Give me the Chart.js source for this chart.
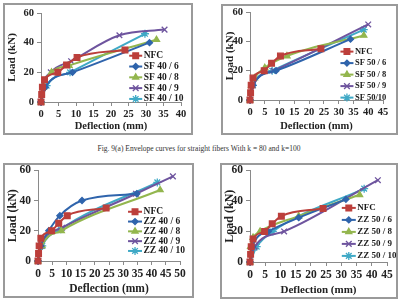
<!DOCTYPE html>
<html>
<head>
<meta charset="utf-8">
<script src="https://cdn.jsdelivr.net/npm/chart.js@4/dist/chart.umd.min.js"></script>
<style>
  body { margin: 0; background: #fff; width: 398px; height: 301px; position: relative; overflow: hidden; }
  .panel { position: absolute; border: 2px solid #9a9a9a; box-sizing: border-box; }
  .panel canvas { position: absolute; left: 0; top: 0; }
  #caption { position: absolute; left: 0; width: 398px; top: 144px; text-align: center;
             font: 7.5px "Liberation Serif", serif; color: #333; }
</style>
</head>
<body>
<div class="panel" style="left:3px;top:3px;width:190px;height:132px"><canvas id="c1" width="186" height="128"></canvas></div>
<div class="panel" style="left:221px;top:4px;width:177px;height:131px"><canvas id="c2" width="173" height="127"></canvas></div>
<div id="caption">Fig. 9(a) Envelope curves for straight fibers With k = 80 and k=100</div>
<div class="panel" style="left:3px;top:163px;width:191px;height:135px"><canvas id="c3" width="187" height="131"></canvas></div>
<div class="panel" style="left:220px;top:163px;width:178px;height:136px"><canvas id="c4" width="174" height="132"></canvas></div>
<script>
// [deflection (mm), load (kN)]
const nfc = [[0, 0], [0.2, 5], [0.4, 10], [1, 15], [4.8, 20], [7.3, 25], [10.3, 30], [24, 35]];

const sf40_6 = [[0, 0], [1.2, 10], [9, 20], [31, 40]];
const sf40_8 = [[0, 0], [0.6, 10], [3, 20], [8, 24.5], [33, 42]];
const sf40_9 = [[0, 0], [0.5, 10], [2.8, 20], [8.6, 27.5], [22.4, 45], [35.3, 48.8]];
const sf40_10 = [[0, 0], [1.6, 11], [8.3, 20], [29.7, 46]];

const sf50_6 = [[0, 0], [1, 10], [8.8, 20], [34, 41.5]];
const sf50_8 = [[0, 0], [0.5, 10], [1.5, 15], [5, 22], [12.5, 30], [38.5, 44]];
const sf50_9 = [[0, 0], [1, 10], [8, 20], [40, 51.5]];
const sf50_10 = [[0, 0], [1, 10], [7.5, 20], [38.5, 48]];

const zz40_6 = [[0, 0], [1, 10], [3.8, 20], [7.7, 30], [15.5, 40], [34.8, 44.5]];
const zz40_8 = [[0, 0], [1.4, 10], [8.2, 20], [43, 47]];
const zz40_9 = [[0, 0], [1, 10], [8.5, 22], [34.5, 44.5], [47.5, 56]];
const zz40_10 = [[0, 0], [1.5, 10], [8, 21], [42, 52]];

const zz50_6 = [[0, 0], [0.8, 10], [6, 20], [16, 29], [31.5, 41]];
const zz50_8 = [[0, 0], [0.2, 10], [1, 16], [3.3, 20], [16, 30], [36, 44]];
const zz50_9 = [[0, 0], [1.5, 10], [11.2, 20], [42, 53.5]];
const zz50_10 = [[0, 0], [2.2, 10], [7.5, 20], [37.5, 48]];

const sf40Labels = ["NFC", "SF 40 / 6", "SF 40 / 8", "SF 40 / 9", "SF 40 / 10"];
const sf50Labels = ["NFC", "SF 50 / 6", "SF 50 / 8", "SF 50 / 9", "SF 50/10"];
const zz40Labels = ["NFC", "ZZ 40 / 6", "ZZ 40 / 8", "ZZ 40 / 9", "ZZ 40 / 10"];
const zz50Labels = ["NFC", "ZZ 50 / 6", "ZZ 50 / 8", "ZZ 50 / 9", "ZZ 50 / 10"];

const loadTicks = [0, 10, 20, 30, 40, 50, 60];

const seriesColors = ["#BC3F3B", "#2F64AC", "#93B64E", "#6E549E", "#3FA9C6"];
const seriesMarkers = ["rect", "rectRot", "triangle", "crossRot", "star"];
const markerSizes = [4, 3, 3.5, 4, 4];

const FONT = '"Liberation Serif", "Times New Roman", serif';

// legend drawn inside the plot, Excel style: short line + marker + name
const insideLegend = {
  id: "insideLegend",
  afterDraw(chart, args, o) {
    const ctx = chart.ctx, a = chart.chartArea;
    const x0 = a.left + o.fx * (a.right - a.left);
    let y = a.top + o.fy * (a.bottom - a.top);
    ctx.save();
    ctx.font = "bold " + o.size + "px " + FONT;
    ctx.textBaseline = "middle";
    chart.data.datasets.forEach(ds => {
      ctx.strokeStyle = ds.borderColor;
      ctx.fillStyle = ds.backgroundColor;
      ctx.lineWidth = 2;
      ctx.beginPath();
      ctx.moveTo(x0, y);
      ctx.lineTo(x0 + o.len, y);
      ctx.stroke();
      ctx.lineWidth = 1.3;
      Chart.helpers.drawPoint(ctx, { pointStyle: ds.pointStyle, radius: ds.pointRadius, borderWidth: 1.3, rotation: 0 },
        x0 + o.len / 2, y);
      ctx.fillStyle = "#1a1a1a";
      ctx.fillText(ds.label, x0 + o.len + 1.5, y);
      y += o.gap;
    });
    ctx.restore();
  }
};

function makeChart(id, labels, series, xMax, box) {
  const datasets = series.map((pts, i) => ({
    label: labels[i],
    data: pts.map(p => ({ x: p[0], y: p[1] })),
    showLine: true,
    borderColor: seriesColors[i],
    backgroundColor: seriesColors[i],
    borderWidth: 2,
    pointStyle: seriesMarkers[i],
    pointRadius: markerSizes[i],
    pointBorderWidth: 1.3,
    cubicInterpolationMode: "monotone",
    clip: false
  }));

  new Chart(id, {
    type: "scatter",
    data: { datasets: datasets },
    options: {
      responsive: false,
      animation: false,
      layout: { padding: { top: box.top, right: box.right, left: 0, bottom: 0 } },
      plugins: {
        legend: { display: false },
        tooltip: { enabled: false },
        insideLegend: box.legend
      },
      scales: {
        x: {
          type: "linear", min: 0, max: xMax,
          afterFit: s => { s.height = box.xH; s.paddingLeft = 0; s.paddingRight = 0; },
          ticks: { stepSize: 5, color: "#222", padding: 2, maxRotation: 0, autoSkip: false,
                   font: { family: FONT, size: box.tick, weight: "bold" } },
          grid: { drawOnChartArea: false, tickLength: 4, color: "#8a8a8a" },
          border: { color: "#8a8a8a" },
          title: { display: true, text: "Deflection (mm)", color: "#222", padding: 0,
                   font: { family: FONT, size: box.title, weight: "bold" } }
        },
        y: {
          min: 0, max: 60,
          afterFit: s => { s.width = box.yW; s.paddingTop = 0; s.paddingBottom = 0; },
          afterBuildTicks: s => { s.ticks = loadTicks.map(v => ({ value: v })); },
          ticks: { color: "#222", padding: 3,
                   font: { family: FONT, size: box.tick, weight: "bold" } },
          grid: { drawOnChartArea: false, tickLength: 4, color: "#8a8a8a" },
          border: { color: "#8a8a8a" },
          title: { display: true, text: "Load (kN)", color: "#222", padding: 1,
                   font: { family: FONT, size: box.ytitle, weight: "bold" } }
        }
      }
    },
    plugins: [insideLegend]
  });
}

makeChart("c1", sf40Labels, [nfc, sf40_6, sf40_8, sf40_9, sf40_10], 40,
  { top: 8, right: 10, yW: 36, xH: 31, tick: 10.5, title: 10.5, ytitle: 11,
    legend: { fx: 0.63, fy: 0.48, gap: 10.8, len: 13, size: 9.5 } });

makeChart("c2", sf50Labels, [nfc, sf50_6, sf50_8, sf50_9, sf50_10], 45,
  { top: 6, right: 13, yW: 27, xH: 33, tick: 10.5, title: 10.5, ytitle: 11,
    legend: { fx: 0.68, fy: 0.45, gap: 11.5, len: 13, size: 8.5 } });

makeChart("c3", zz40Labels, [nfc, zz40_6, zz40_8, zz40_9, zz40_10], 50,
  { top: 4, right: 12, yW: 33, xH: 35, tick: 11.5, title: 11.5, ytitle: 12,
    legend: { fx: 0.634, fy: 0.457, gap: 9.8, len: 14, size: 9.5 } });

makeChart("c4", zz50Labels, [nfc, zz50_6, zz50_8, zz50_9, zz50_10], 45,
  { top: 4, right: 9, yW: 28, xH: 35, tick: 11.5, title: 11, ytitle: 12,
    legend: { fx: 0.67, fy: 0.41, gap: 12, len: 14, size: 9 } });
</script>
</body>
</html>
